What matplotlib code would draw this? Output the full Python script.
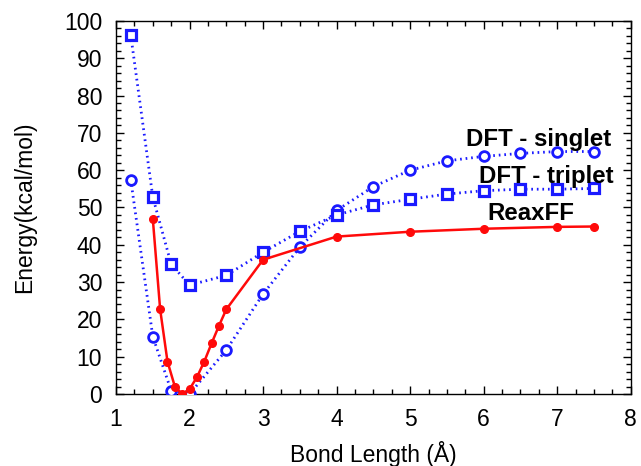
import matplotlib
matplotlib.use("Agg")
import matplotlib.pyplot as plt
from matplotlib.ticker import MultipleLocator

plt.rcParams['font.family'] = ['Liberation Sans', 'DejaVu Sans']

# ReaxFF energy curve
reax_x = [1.5, 1.6, 1.7, 1.8, 1.9, 2.0, 2.1, 2.2, 2.3, 2.4, 2.5, 3.0, 4.0, 5.0, 6.0, 7.0, 7.5]
reax_y = [47.0, 22.7, 8.7, 2.0, 0.0, 1.3, 4.5, 8.7, 13.6, 18.3, 22.7, 36.0, 42.2, 43.5, 44.3, 44.8, 44.9]

# DFT singlet
singlet_x = [1.2, 1.5, 1.75, 2.0, 2.5, 3.0, 3.5, 4.0, 4.5, 5.0, 5.5, 6.0, 6.5, 7.0, 7.5]
singlet_y = [57.5, 15.4, 0.9, 0.0, 11.8, 26.8, 39.4, 49.2, 55.6, 60.0, 62.5, 63.7, 64.5, 65.0, 65.0]

# DFT triplet
triplet_x = [1.2, 1.5, 1.75, 2.0, 2.5, 3.0, 3.5, 4.0, 4.5, 5.0, 5.5, 6.0, 6.5, 7.0, 7.5]
triplet_y = [96.3, 52.8, 34.8, 29.2, 31.8, 38.0, 43.6, 48.0, 50.7, 52.2, 53.6, 54.5, 54.9, 54.9, 55.1]

fig = plt.figure(figsize=(6.41, 4.66), dpi=100)
ax = fig.add_axes([0.181, 0.1545, 0.803, 0.8005])

blue = '#1a1aff'
dots = (0, (0.6, 1.4))
ax.plot(singlet_x, singlet_y, linestyle=dots, color=blue, linewidth=2.0,
        marker='o', markersize=7, markerfacecolor='white', markeredgecolor=blue,
        markeredgewidth=2.0, zorder=3)
ax.plot(triplet_x, triplet_y, linestyle=dots, color=blue, linewidth=2.0,
        marker='s', markersize=7, markerfacecolor='white', markeredgecolor=blue,
        markeredgewidth=2.3, zorder=3)
ax.plot(reax_x, reax_y, '-', color='#ff0a0a', linewidth=1.8,
        marker='o', markersize=5.5, markerfacecolor='#ff0a0a', markeredgecolor='#ff0a0a',
        zorder=4)

ax.set_xlim(1, 8)
ax.set_ylim(0, 100)
ax.xaxis.set_major_locator(MultipleLocator(1))
ax.xaxis.set_minor_locator(MultipleLocator(0.25))
ax.yaxis.set_major_locator(MultipleLocator(10))
ax.yaxis.set_minor_locator(MultipleLocator(2))
ax.tick_params(which='both', direction='in', top=True, right=True, width=1.0,
               labelsize=16.5, pad=10)
ax.tick_params(which='major', length=6)
ax.tick_params(which='minor', length=3.5)
for s in ax.spines.values():
    s.set_linewidth(1.0)

ax.set_xlabel('Bond Length (Å)', fontsize=16.5, labelpad=7)
ax.set_ylabel('Energy(kcal/mol)', fontsize=16.5, labelpad=20)

ax.text(5.76, 68.3, 'DFT - singlet', fontsize=17.3, fontweight='bold', va='center', ha='left')
ax.text(5.94, 58.3, 'DFT - triplet', fontsize=17.3, fontweight='bold', va='center', ha='left')
ax.text(6.05, 48.5, 'ReaxFF', fontsize=17.3, fontweight='bold', va='center', ha='left')

fig.savefig('out.png', dpi=100)
